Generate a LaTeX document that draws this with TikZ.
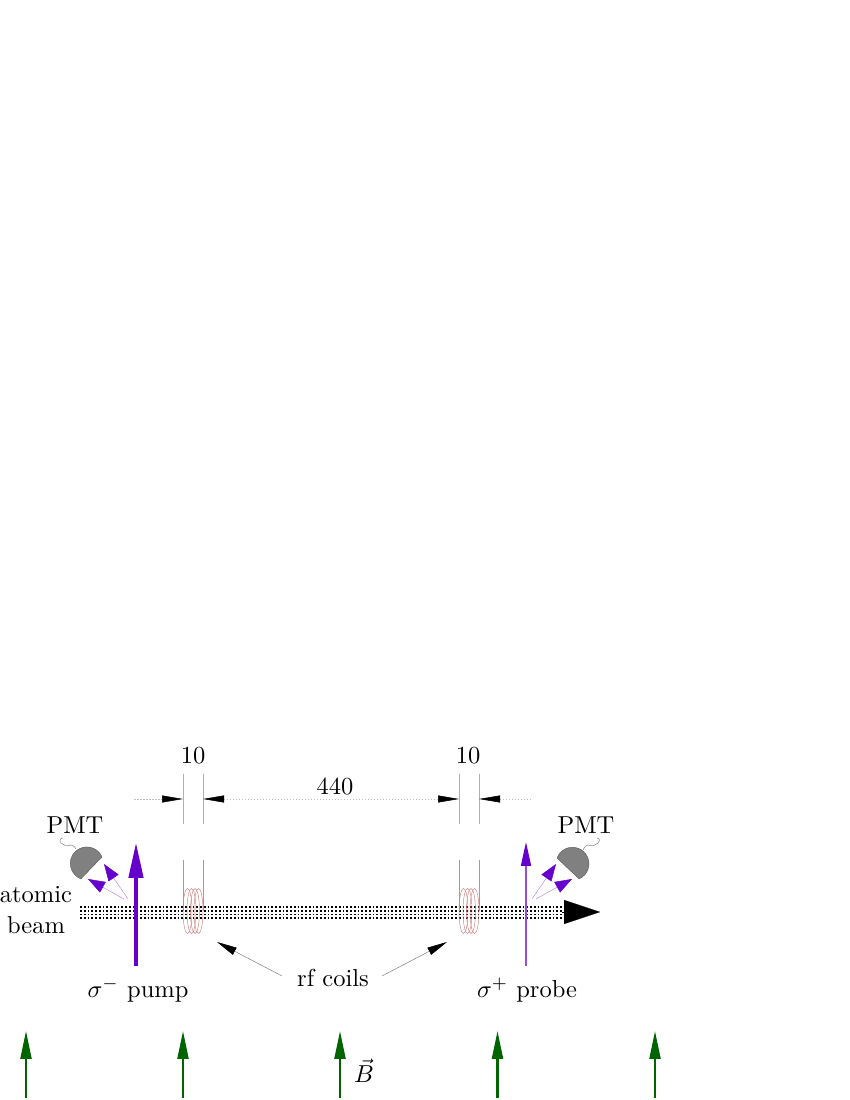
\documentclass[tikz,border=0pt]{standalone}
\usetikzlibrary{arrows.meta}
\definecolor{vio}{HTML}{6600CC}
\definecolor{grn}{HTML}{006400}
\definecolor{coilc}{HTML}{D08888}
\definecolor{guide}{HTML}{B0B0B0}
\tikzset{
  lab/.style={scale=2.45,inner sep=0pt,align=center},
  pumpbeam/.style={vio,line width=4.6pt,-{Stealth[length=36pt,width=14pt,inset=0pt]}},
  probebeam/.style={vio!70,line width=1.7pt,-{Stealth[length=24pt,width=10pt,inset=0pt,vio]}},
  fluor/.style={vio!45,line width=.5pt,-{Stealth[length=17pt,width=12pt,inset=0pt,vio]}},
  field/.style={grn,line width=2.2pt,-{Stealth[length=28pt,width=11pt,inset=0pt]}},
  dimline/.style={gray!50,line width=.5pt,dash pattern=on 1.5pt off 1.5pt,-{Stealth[length=21pt,width=7pt,inset=0pt,black]}},
  dimboth/.style={gray!50,line width=.5pt,dash pattern=on 1.5pt off 1.5pt,{Stealth[length=21pt,width=7pt,inset=0pt,black]}-{Stealth[length=21pt,width=7pt,inset=0pt,black]}},
  leader/.style={gray,line width=.5pt,-{Stealth[length=20pt,width=8pt,inset=0pt,black]}},
  guideline/.style={guide,line width=.7pt},
  coilline/.style={coilc,line width=.6pt},
  beamrow/.style={black,line width=1.9pt,dash pattern=on 1.8pt off 1.95pt},
  pmtbody/.style={fill=gray,draw=gray!70!black,line width=.4pt},
  wire/.style={gray,line width=.5pt}
}
\begin{document}
\begin{tikzpicture}[x=1pt,y=1pt]
\useasboundingbox (0,0) rectangle (850,1100);
% atomic beam
\foreach \yy in {193,189.25,185.5,181.75}{
  \draw[beamrow] (80,\yy) -- (564,\yy);
}
\coordinate (beamL) at (562,188);
\coordinate (beamT) at (600,188);
\draw[-{Stealth[length=36pt,width=24pt,inset=0pt]},line width=.1pt] (beamL) -- (beamT);
% guide lines
\foreach \xx in {183,203,459,479}{
  \draw[guideline] (\xx,326) -- (\xx,276);
  \draw[coilline] (\xx,240) -- (\xx,189);
}
% coils
\foreach \cc in {187.5,191.5,195,198.5,463.5,467.5,471,474.5}{
  \draw[coilc,line width=.5pt] (\cc,189) ellipse [x radius=4.5pt,y radius=22.5pt];
}
% laser beams
\coordinate (pumpS) at (136,134);
\coordinate (pumpT) at (136,258);
\coordinate (probeS) at (526,134);
\coordinate (probeT) at (526,258);
\draw[pumpbeam] (pumpS) -- (pumpT);
\draw[probebeam] (probeS) -- (probeT);
% PMTs
\coordinate (pmtLa) at (102,243);
\coordinate (pmtRa) at (557,242);
\draw[pmtbody] (pmtLa) arc [start angle=23,delta angle=226,radius=16.5pt] -- cycle;
\draw[pmtbody] (pmtRa) arc [start angle=159.5,delta angle=-226,radius=16.5pt] -- cycle;
\draw[wire] (76,251) .. controls (74,254) and (72,256) .. (69,254.5) .. controls (66,253) and (63,256) .. (61,257) .. controls (59,259) and (60,262) .. (63,262);
\draw[wire] (583,250) .. controls (585,254) and (587,256) .. (590,254.5) .. controls (593,253) and (596,256) .. (598,257) .. controls (600,259) and (600,262) .. (597,262);
% fluorescence
\coordinate (fa1) at (128,201);
\coordinate (fb1) at (104,236);
\coordinate (fa2) at (124,201);
\coordinate (fb2) at (88,221);
\coordinate (fa3) at (532,201);
\coordinate (fb3) at (556,236);
\coordinate (fa4) at (536,201);
\coordinate (fb4) at (572,221);
\draw[fluor] (fa1) -- (fb1);
\draw[fluor] (fa2) -- (fb2);
\draw[fluor] (fa3) -- (fb3);
\draw[fluor] (fa4) -- (fb4);
% dimensions
\coordinate (d0) at (134,301);
\coordinate (d1) at (183,301);
\coordinate (d2) at (203,301);
\coordinate (d3) at (459,301);
\coordinate (d4) at (479,301);
\coordinate (d5) at (531,301);
\draw[dimline] (d0) -- (d1);
\draw[dimboth] (d2) -- (d3);
\draw[dimline] (d5) -- (d4);
% field
\coordinate (b1s) at (26,2);
\coordinate (b1t) at (26,69);
\coordinate (b2s) at (183,2);
\coordinate (b2t) at (183,69);
\coordinate (b3s) at (340,2);
\coordinate (b3t) at (340,69);
\coordinate (b4s) at (497.5,2);
\coordinate (b4t) at (497.5,69);
\coordinate (b5s) at (655,2);
\coordinate (b5t) at (655,69);
\draw[field] (b1s) -- (b1t);
\draw[field] (b2s) -- (b2t);
\draw[field] (b3s) -- (b3t);
\draw[field] (b4s) -- (b4t);
\draw[field] (b5s) -- (b5t);
% labels
\node[lab] (ten1) at (193,344) {10};
\node[lab] (ten2) at (468,344) {10};
\node[lab] (dist) at (335,314) {440};
\node[lab] (pmtl) at (75,275) {PMT};
\node[lab] (pmtr) at (586,275) {PMT};
\node[lab] (atom) at (36,190) {atomic\\[0.5pt]beam};
\node[lab] (pump) at (138,110) {$\sigma^-$\ pump};
\node[lab] (probe) at (527,110) {$\sigma^+$\ probe};
\node[lab] (rf) at (333,122) {rf coils};
\node[lab] (bf) at (364,29) {$\vec{B}$};
% leaders
\coordinate (rfL) at (282,124);
\coordinate (rfLt) at (217,158);
\coordinate (rfR) at (382,124);
\coordinate (rfRt) at (447,158);
\draw[leader] (rfL) -- (rfLt);
\draw[leader] (rfR) -- (rfRt);
\end{tikzpicture}
\end{document}
